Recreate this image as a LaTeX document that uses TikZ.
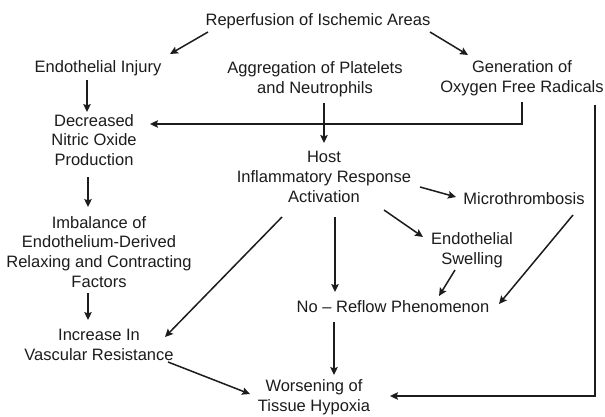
\documentclass[tikz,border=0pt]{standalone}
\usepackage{fontspec}
\setmainfont{Liberation Sans}
\usetikzlibrary{arrows.meta,calc}
\definecolor{ink}{HTML}{1C1C1C}
\begin{document}
\begin{tikzpicture}[x=1pt,y=-1pt,
  lbl/.style={inner sep=0pt,align=center,text=ink,font=\fontsize{16.5}{19.8}\selectfont},
  arr/.style={draw=ink,line width=1.5pt,-{Stealth[length=8pt,width=7.5pt,inset=1.5pt]}}]
\useasboundingbox[fill=white] (0,0) rectangle (605,417);
\node[lbl] (rep) at (318,21) {Reperfusion of Ischemic Areas};
\node[lbl] (inj) at (98,68) {Endothelial Injury};
\node[lbl] (agg) at (315,79) {Aggregation of Platelets\\and Neutrophils};
\node[lbl] (gen) at (522,78) {Generation of\\Oxygen Free Radicals};
\node[lbl] (dec) at (94,140) {Decreased\\Nitric Oxide\\Production};
\node[lbl] (host) at (324,177) {Host\\Inflammatory Response\\Activation};
\node[lbl] (micro) at (524,199) {Microthrombosis};
\node[lbl] (endsw) at (472,250) {Endothelial\\Swelling};
\node[lbl] (imb) at (99,252) {Imbalance of\\Endothelium-Derived\\Relaxing and Contracting\\Factors};
\node[lbl] (noref) at (393,307) {No -- Reflow Phenomenon};
\node[lbl] (inc) at (99,345) {Increase In\\Vascular Resistance};
\node[lbl] (wors) at (314,397) {Worsening of\\Tissue Hypoxia};

\draw[arr] ($(rep)+(-110,11)$) -- ($(inj)+(72,-14)$);
\draw[arr] ($(rep)+(112,11)$) -- ($(gen)+(-54,-23)$);
\draw[arr] ($(inj)+(-11,12)$) -- ($(dec)+(-7,-28)$);
\draw[arr] ($(gen)+(0,24)$) |- ($(dec)+(56,-16)$);
\draw[arr] ($(agg)+(9,24)$) -- ($(host)+(0,-34)$);
\draw[arr] ($(gen)+(73,27)$) |- ($(wors)+(76,-1)$);
\draw[arr] ($(dec)+(-6,37)$) -- ($(imb)+(-11,-45)$);
\draw[arr] ($(imb)+(-11,41)$) -- ($(inc)+(-11,-25)$);
\draw[arr] ($(host)+(96,10)$) -- ($(micro)+(-68,-2)$);
\draw[arr] ($(host)+(60,33)$) -- ($(endsw)+(-49,-13)$);
\draw[arr] ($(host)+(-42,40)$) -- ($(inc)+(66,-8)$);
\draw[arr] ($(host)+(11,40)$) -- ($(noref)+(-58,-15)$);
\draw[arr] ($(endsw)+(-17,20)$) -- ($(noref)+(46,-11)$);
\draw[arr] ($(micro)+(49,16)$) -- ($(noref)+(106,-3)$);
\draw[arr] ($(noref)+(-59,15)$) -- ($(wors)+(20,-22)$);
\draw[arr] ($(inc)+(69,17)$) -- ($(wors)+(-64,-3)$);
\end{tikzpicture}
\end{document}
